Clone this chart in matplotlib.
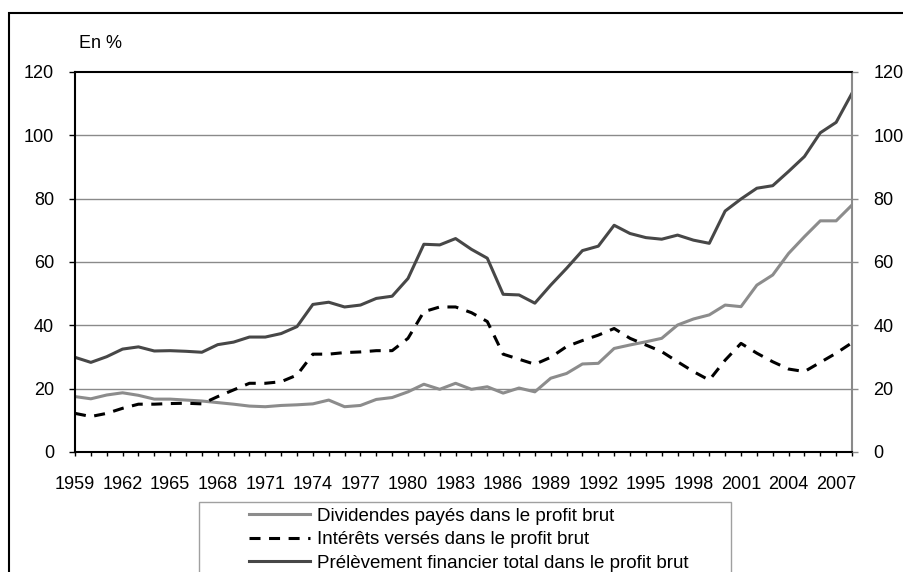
import matplotlib
matplotlib.use('Agg')
import matplotlib.pyplot as plt
from matplotlib.patches import Rectangle

plt.rcParams['font.family'] = ['Liberation Sans', 'DejaVu Sans']

# data, in %
years = list(range(1959, 2009))
dividendes = [17.5, 16.8, 18.0, 18.7, 17.9, 16.7, 16.7, 16.4, 16.1, 15.6,
              15.1, 14.5, 14.3, 14.7, 14.9, 15.2, 16.4, 14.3, 14.7, 16.6,
              17.2, 19.0, 21.4, 19.8, 21.7, 19.8, 20.6, 18.6, 20.2, 19.0,
              23.3, 24.8, 27.8, 28.0, 32.7, 33.8, 34.8, 35.9, 40.1, 42.0,
              43.3, 46.4, 45.9, 52.7, 55.9, 62.7, 68.0, 73.0, 73.0, 78.0]
interets = [12.2, 11.2, 12.2, 13.8, 15.1, 15.1, 15.3, 15.4, 15.2, 17.5,
            19.6, 21.7, 21.7, 22.2, 24.3, 30.9, 30.9, 31.4, 31.6, 32.0,
            32.0, 35.9, 44.3, 45.8, 45.8, 44.0, 41.2, 30.9, 29.3, 27.7,
            29.9, 33.3, 35.2, 36.9, 39.0, 35.9, 33.8, 31.7, 28.5, 25.4,
            22.7, 29.0, 34.3, 31.2, 28.5, 26.2, 25.4, 28.3, 31.2, 34.5]
total = [29.9, 28.3, 30.1, 32.5, 33.2, 31.9, 32.0, 31.8, 31.5, 33.9,
         34.7, 36.3, 36.3, 37.4, 39.6, 46.6, 47.3, 45.8, 46.4, 48.5,
         49.2, 54.8, 65.6, 65.4, 67.4, 64.0, 61.2, 49.8, 49.6, 47.0,
         52.7, 58.0, 63.6, 65.0, 71.6, 69.0, 67.7, 67.2, 68.5, 66.9,
         65.9, 76.1, 79.9, 83.3, 84.1, 88.6, 93.3, 100.8, 104.1, 113.3]
yticks = [0, 20, 40, 60, 80, 100, 120]
xlabel_years = years[::3]

labels = ['Dividendes payés dans le profit brut',
          'Intérêts versés dans le profit brut',
          'Prélèvement financier total dans le profit brut']

W, H = 904, 572
FS = 13
fig = plt.figure(figsize=(W / 100, H / 100), dpi=100)
ax = fig.add_axes([75 / W, 1 - 452 / H, (852 - 75) / W, (452 - 72) / H])

l1, = ax.plot(years, dividendes, color='#8c8c8c', lw=2.2)
l2, = ax.plot(years, interets, color='black', lw=2.2, dashes=(3.6, 2.8))
l3, = ax.plot(years, total, color='#474747', lw=2.2)

ax.set_xlim(1959, 2008)
ax.set_ylim(0, 120)
ax.set_yticks(yticks)
ax.set_xticks(years, minor=True)
ax.set_xticks(xlabel_years)
ax.set_xticklabels([str(y) for y in xlabel_years])
for g in yticks[1:-1]:
    ax.axhline(g, color='#8a8a8a', lw=1.0, zorder=0)

ax.tick_params(axis='y', direction='out', length=4, width=1, labelsize=FS, pad=11)
ax.tick_params(axis='x', which='both', direction='out', length=3, width=1,
               labelsize=FS, pad=14)
for s in ['left', 'bottom', 'top']:
    ax.spines[s].set_linewidth(1.5)
    ax.spines[s].set_color('black')
ax.spines['right'].set_color('#8a8a8a')
ax.spines['right'].set_linewidth(1.5)

ax2 = ax.twinx()
ax2.set_ylim(0, 120)
ax2.set_yticks(yticks)
ax2.tick_params(axis='y', direction='out', length=4, width=1, colors='#8a8a8a',
                labelcolor='black', labelsize=FS, pad=11.5)
for s in ax2.spines.values():
    s.set_visible(False)

fig.text(79 / W, 1 - 44 / H, 'En %', fontsize=FS, va='center', ha='left')

# outer frame and legend box (cut by the bottom edge, as in the source)
fig.patches.append(Rectangle((9 / W, -0.1), 1.2, 1 - 13 / H + 0.1,
                             transform=fig.transFigure, fill=False,
                             edgecolor='black', lw=1.5))
fig.patches.append(Rectangle((199 / W, -0.1), (731 - 199) / W, 1 - 502 / H + 0.1,
                             transform=fig.transFigure, fill=False,
                             edgecolor='#a0a0a0', lw=1.0))
fig.legend([l1, l2, l3], labels, loc='upper left',
           bbox_to_anchor=(249 / W, 1 - 507.5 / H), frameon=False, fontsize=13.5,
           handlelength=3.25, handletextpad=0.37, labelspacing=0.34,
           borderpad=0, borderaxespad=0)

fig.savefig('out.png', dpi=100)
